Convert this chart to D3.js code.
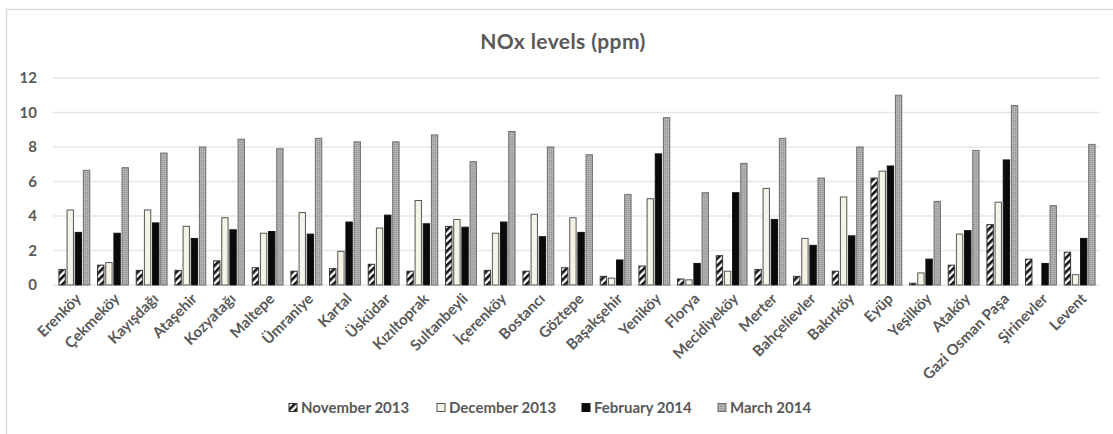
<!DOCTYPE html>
<html>
<head>
<meta charset="utf-8">
<script src="https://cdn.jsdelivr.net/npm/d3@7"></script>
<style>
  body { margin: 0; background: #fff; }
  text { font-family: Lato, "Open Sans", sans-serif; fill: #595959; }
</style>
</head>
<body>
<div id="chart-container"></div>
<script>
// Districts (x categories)
const districts = ["Erenköy", "Çekmeköy", "Kayışdağı", "Ataşehir", "Kozyatağı", "Maltepe", "Ümraniye", "Kartal",
  "Üsküdar", "Kızıltoprak", "Sultanbeyli", "İçerenköy", "Bostancı", "Göztepe", "Başakşehir", "Yeniköy", "Florya",
  "Mecidiyeköy", "Merter", "Bahçelievler", "Bakırköy", "Eyüp", "Yeşilköy", "Ataköy", "Gazi Osman Paşa",
  "Şirinevler", "Levent"];

// NOx values per month (ppm)
const nov2013 = [0.9, 1.15, 0.85, 0.85, 1.4, 1.0, 0.8, 0.95, 1.2, 0.8, 3.4, 0.85, 0.8, 1.0, 0.5, 1.1, 0.35,
  1.7, 0.9, 0.5, 0.8, 6.2, 0.1, 1.15, 3.5, 1.5, 1.9];
const dec2013 = [4.35, 1.3, 4.35, 3.4, 3.9, 3.0, 4.2, 1.95, 3.3, 4.9, 3.8, 3.0, 4.1, 3.9, 0.4, 5.0, 0.3,
  0.8, 5.6, 2.7, 5.1, 6.6, 0.7, 2.95, 4.8, 0, 0.6];
const feb2014 = [3.05, 3.0, 3.6, 2.7, 3.2, 3.1, 2.95, 3.65, 4.05, 3.55, 3.35, 3.65, 2.8, 3.05, 1.45, 7.6, 1.25,
  5.35, 3.8, 2.3, 2.85, 6.9, 1.5, 3.15, 7.25, 1.25, 2.7];
const mar2014 = [6.65, 6.8, 7.65, 8.0, 8.45, 7.9, 8.5, 8.3, 8.3, 8.7, 7.15, 8.9, 8.0, 7.55, 5.25, 9.7, 5.35,
  7.05, 8.5, 6.2, 8.0, 11.0, 4.85, 7.8, 10.4, 4.6, 8.15];

const seriesNames = ["November 2013", "December 2013", "February 2014", "March 2014"];
const seriesValues = [nov2013, dec2013, feb2014, mar2014];
const yTicks = [0, 2, 4, 6, 8, 10, 12];

const width = 1113;
const height = 434;

const svg = d3.select("#chart-container")
  .append("svg")
  .attr("width", width)
  .attr("height", height);

// Patterns for bar fills
const defs = svg.append("defs");

const hatch = defs.append("pattern")
  .attr("id", "hatch")
  .attr("patternUnits", "userSpaceOnUse")
  .attr("width", 5)
  .attr("height", 5)
  .attr("patternTransform", "rotate(45)");
hatch.append("rect").attr("width", 5).attr("height", 5).attr("fill", "#fff");
hatch.append("rect").attr("width", 2.6).attr("height", 5).attr("fill", "#111");

const dots = defs.append("pattern")
  .attr("id", "dots")
  .attr("patternUnits", "userSpaceOnUse")
  .attr("width", 2)
  .attr("height", 2);
dots.append("rect").attr("width", 2).attr("height", 2).attr("fill", "#b4b4b4");
dots.append("rect").attr("width", 1).attr("height", 1).attr("fill", "#8c8c8c");

const fills = ["url(#hatch)", "#f6f4e6", "#0a0a0a", "url(#dots)"];
const strokes = ["#333", "#555", "#111", "#6e6e6e"];

// Chart frame
svg.append("rect")
  .attr("x", 6.5)
  .attr("y", 9.5)
  .attr("width", width + 10)
  .attr("height", height + 10)
  .attr("fill", "none")
  .attr("stroke", "#d9d9d9")
  .attr("stroke-width", 1.5);

// Title
svg.append("text")
  .attr("x", 563)
  .attr("y", 49)
  .attr("text-anchor", "middle")
  .style("font-size", "21px")
  .style("font-weight", "bold")
  .style("letter-spacing", "0.4px")
  .text("NOx levels (ppm)");

// Scales
const x = d3.scaleBand()
  .domain(districts)
  .range([55, 1099])
  .paddingInner(0)
  .paddingOuter(0);

const xInner = d3.scaleBand()
  .domain(d3.range(seriesNames.length))
  .range([0, x.bandwidth()])
  .paddingInner(0.22)
  .paddingOuter(0.48);

const y = d3.scaleLinear()
  .domain([0, 12])
  .range([285, 78]);

// Gridlines
svg.append("g")
  .selectAll("line")
  .data(yTicks)
  .join("line")
  .attr("x1", 53)
  .attr("x2", 1100)
  .attr("y1", (d) => y(d))
  .attr("y2", (d) => y(d))
  .attr("stroke", "#e6e6e6")
  .attr("stroke-width", 1.5);

// Y axis labels
const yAxis = svg.append("g")
  .attr("transform", "translate(43,0)")
  .call(d3.axisLeft(y).tickValues(yTicks).tickSize(0).tickPadding(6));
yAxis.select(".domain").remove();
yAxis.selectAll("text")
  .style("font-size", "15px")
  .style("font-weight", "bold")
  .attr("fill", "#595959");

// Bars
const groups = svg.append("g")
  .selectAll("g")
  .data(districts)
  .join("g")
  .attr("transform", (d) => `translate(${x(d)},0)`);

groups.selectAll("rect")
  .data((d, i) => seriesValues.map((vals, s) => ({ s: s, v: vals[i] })))
  .join("rect")
  .attr("x", (d) => xInner(d.s))
  .attr("width", xInner.bandwidth())
  .attr("y", (d) => y(d.v))
  .attr("height", (d) => y(0) - y(d.v))
  .attr("fill", (d) => fills[d.s])
  .attr("stroke", (d) => (d.v > 0 ? strokes[d.s] : "none"))
  .attr("stroke-width", 1);

// X axis labels, rotated
svg.append("g")
  .selectAll("text")
  .data(districts)
  .join("text")
  .attr("transform", (d) => `translate(${x(d) + x.bandwidth() / 2 + 4},${296}) rotate(-45)`)
  .attr("text-anchor", "end")
  .attr("dy", "0.35em")
  .style("font-size", "15px")
  .style("font-weight", "bold")
  .text((d) => d);

// Legend
const legendX = [289, 437, 582, 718];
const legend = svg.append("g")
  .selectAll("g")
  .data(seriesNames)
  .join("g")
  .attr("transform", (d, i) => `translate(${legendX[i]},408)`);

legend.append("rect")
  .attr("x", 0)
  .attr("y", -4.5)
  .attr("width", 8)
  .attr("height", 8)
  .attr("fill", (d, i) => fills[i])
  .attr("stroke", (d, i) => strokes[i]);

legend.append("text")
  .attr("x", 12)
  .attr("y", 0)
  .attr("dy", "0.35em")
  .style("font-size", "15px")
  .style("font-weight", "bold")
  .text((d) => d);
</script>
</body>
</html>
